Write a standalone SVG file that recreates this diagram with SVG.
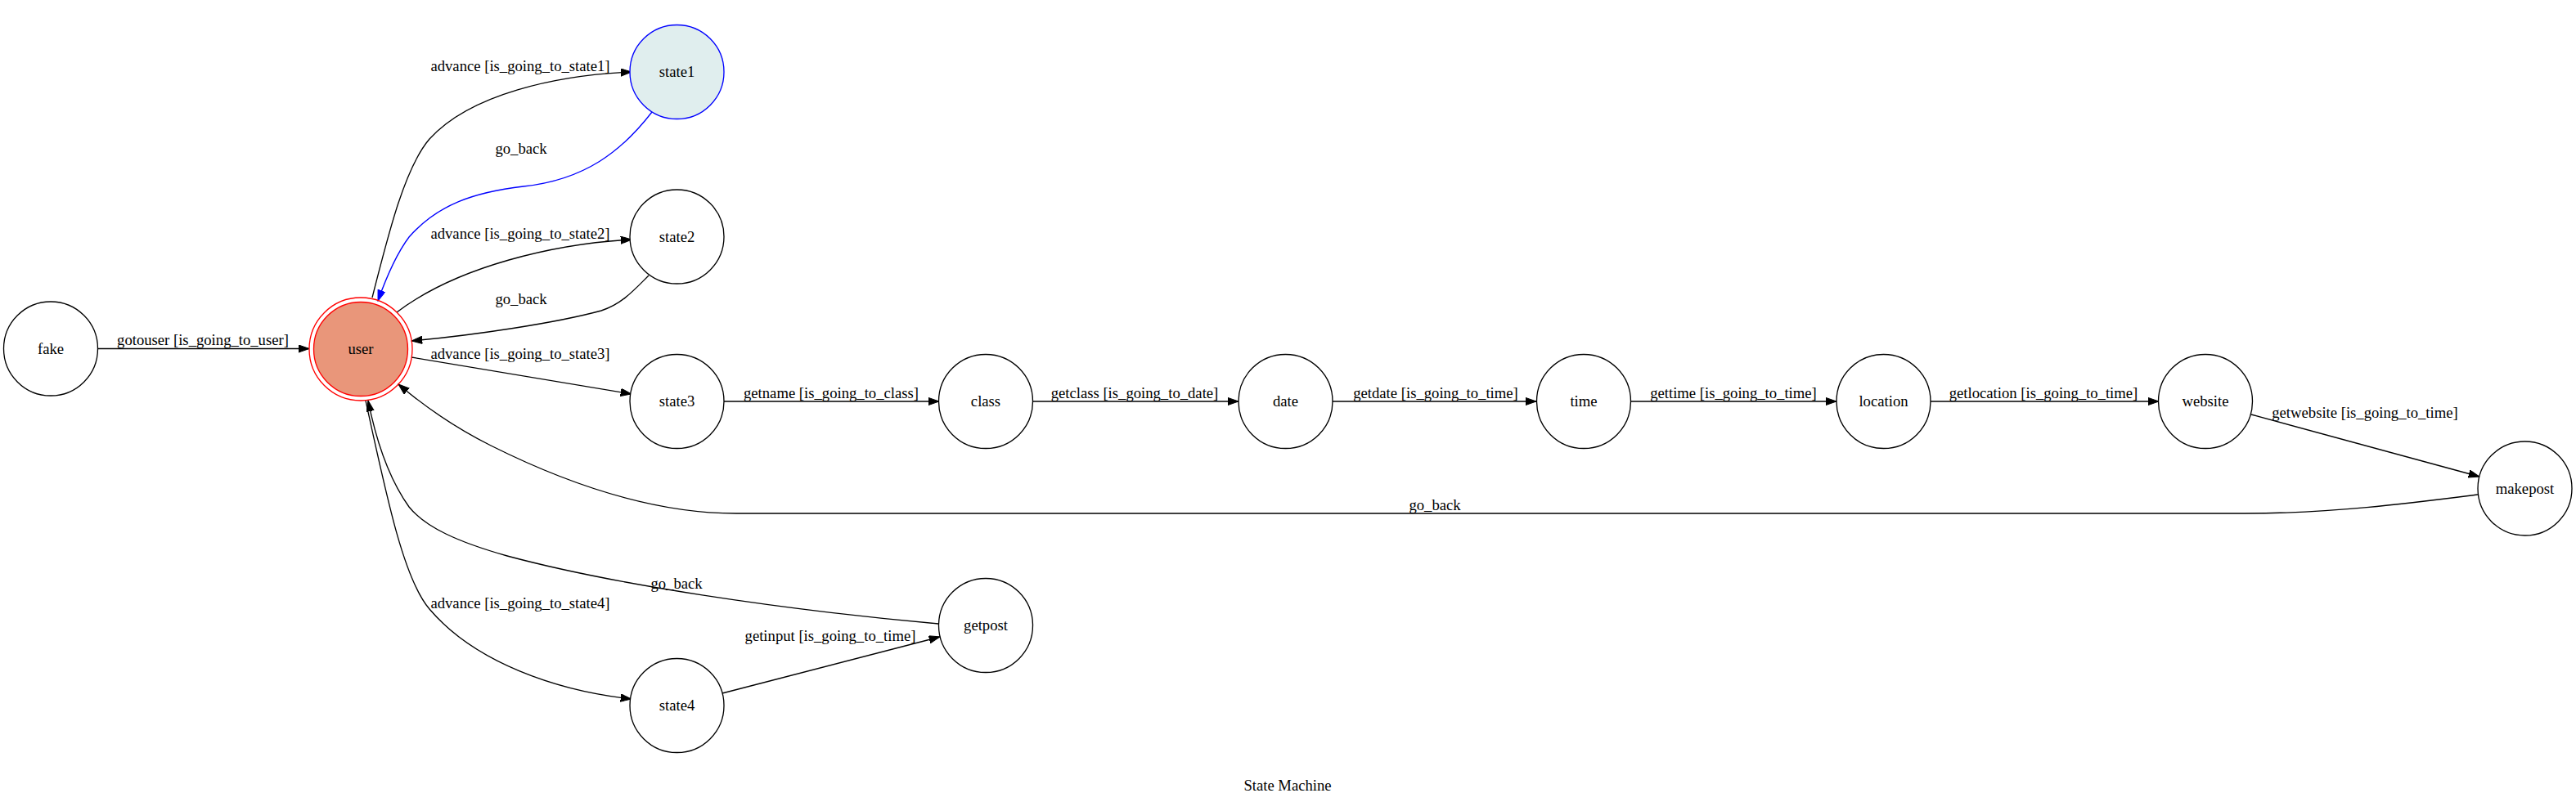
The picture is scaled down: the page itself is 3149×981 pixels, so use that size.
<svg xmlns="http://www.w3.org/2000/svg" width="3149" height="981" viewBox="0 0 3149 981">
<style>
text{font-family:"Liberation Serif","Times New Roman",serif;font-size:18.67px;fill:#000;text-anchor:middle}
.n{fill:#fff;stroke:#000;stroke-width:1.33}
.e{fill:none;stroke:#000;stroke-width:1.33}
.b{fill:none;stroke:#0000ff;stroke-width:1.33}
</style>
<defs>
<marker id="ah" markerUnits="userSpaceOnUse" markerWidth="14" markerHeight="10" refX="13.3" refY="4.67" orient="auto"><path d="M0,0 L13.3,4.67 L0,9.33 z" fill="#000" stroke="#000" stroke-width="1"/></marker>
<marker id="ahb" markerUnits="userSpaceOnUse" markerWidth="14" markerHeight="10" refX="13.3" refY="4.67" orient="auto"><path d="M0,0 L13.3,4.67 L0,9.33 z" fill="#0000ff" stroke="#0000ff" stroke-width="1"/></marker>
</defs>
<rect width="3149" height="981" fill="#fff"/>
<g id="edges">
<path class="e" marker-end="url(#ah)" d="M119,426.5 L378,426.5"/>
<text x="248" y="422">gotouser [is_going_to_user]</text>
<path class="e" marker-end="url(#ah)" d="M455,364 C475,285 495,205 525,170 C575,115 680,92 772,88"/>
<text x="636" y="87">advance [is_going_to_state1]</text>
<path class="b" marker-end="url(#ahb)" d="M797,137 C760,185 715,220 640,228 C580,235 535,250 500,290 C485,310 472,340 462,368"/>
<text x="637" y="188">go_back</text>
<path class="e" marker-end="url(#ah)" d="M485,382 C560,325 680,298 772,293"/>
<text x="636" y="292">advance [is_going_to_state2]</text>
<path class="e" marker-end="url(#ah)" d="M793,337 C775,355 760,372 735,380 C680,395 580,410 503,417"/>
<text x="637" y="372">go_back</text>
<path class="e" marker-end="url(#ah)" d="M503,437 L772,482"/>
<text x="636" y="439">advance [is_going_to_state3]</text>
<path class="e" marker-end="url(#ah)" d="M885,491 L1148,491"/>
<text x="1016" y="487">getname [is_going_to_class]</text>
<path class="e" marker-end="url(#ah)" d="M1262,491 L1514,491"/>
<text x="1387" y="487">getclass [is_going_to_date]</text>
<path class="e" marker-end="url(#ah)" d="M1629,491 L1878,491"/>
<text x="1755" y="487">getdate [is_going_to_time]</text>
<path class="e" marker-end="url(#ah)" d="M1993,491 L2245,491"/>
<text x="2119" y="487">gettime [is_going_to_time]</text>
<path class="e" marker-end="url(#ah)" d="M2360,491 L2639,491"/>
<text x="2498" y="487">getlocation [is_going_to_time]</text>
<path class="e" marker-end="url(#ah)" d="M2752,507 L3031,583"/>
<text x="2891" y="511">getwebsite [is_going_to_time]</text>
<path class="e" marker-end="url(#ah)" d="M3029,605 C2950,615 2850,628 2744,628 L900,628 C790,628 680,585 600,545 C560,525 520,498 487,470"/>
<text x="1754" y="624">go_back</text>
<path class="e" marker-end="url(#ah)" d="M447,490 C475,620 495,710 525,745 C580,810 680,845 772,855"/>
<text x="636" y="744">advance [is_going_to_state4]</text>
<path class="e" marker-end="url(#ah)" d="M1147,763 C950,745 750,715 620,680 C560,663 520,645 500,620 C475,585 460,540 450,490"/>
<text x="827" y="720">go_back</text>
<path class="e" marker-end="url(#ah)" d="M883,848 L1149,779"/>
<text x="1015" y="784">getinput [is_going_to_time]</text>
</g>
<g id="fake"><circle class="n" cx="62" cy="426.5" r="57.5"/><text x="62" y="433">fake</text></g>
<g id="user"><circle cx="441" cy="427" r="63" fill="none" stroke="#ff0000" stroke-width="1.33"/><circle cx="441" cy="427" r="57.5" fill="#e9967a" stroke="#ff0000" stroke-width="1.33"/><text x="441" y="433">user</text></g>
<g id="state1"><circle cx="827.5" cy="88" r="57.5" fill="#e0eeee" stroke="#0000ff" stroke-width="1.33"/><text x="827.5" y="94">state1</text></g>
<g id="state2"><circle class="n" cx="827.5" cy="289.5" r="57.5"/><text x="827.5" y="296">state2</text></g>
<g id="state3"><circle class="n" cx="827.5" cy="491" r="57.5"/><text x="827.5" y="497">state3</text></g>
<g id="state4"><circle class="n" cx="827.5" cy="863" r="57.5"/><text x="827.5" y="869">state4</text></g>
<g id="class"><circle class="n" cx="1205" cy="491" r="57.5"/><text x="1205" y="497">class</text></g>
<g id="getpost"><circle class="n" cx="1205" cy="765" r="57.5"/><text x="1205" y="771">getpost</text></g>
<g id="date"><circle class="n" cx="1571.5" cy="491" r="57.5"/><text x="1571.5" y="497">date</text></g>
<g id="time"><circle class="n" cx="1936" cy="491" r="57.5"/><text x="1936" y="497">time</text></g>
<g id="location"><circle class="n" cx="2302.5" cy="491" r="57.5"/><text x="2302.5" y="497">location</text></g>
<g id="website"><circle class="n" cx="2696" cy="491" r="57.5"/><text x="2696" y="497">website</text></g>
<g id="makepost"><circle class="n" cx="3086.5" cy="597.5" r="57.5"/><text x="3086.5" y="604">makepost</text></g>
<text x="1574" y="967">State Machine</text>
</svg>
